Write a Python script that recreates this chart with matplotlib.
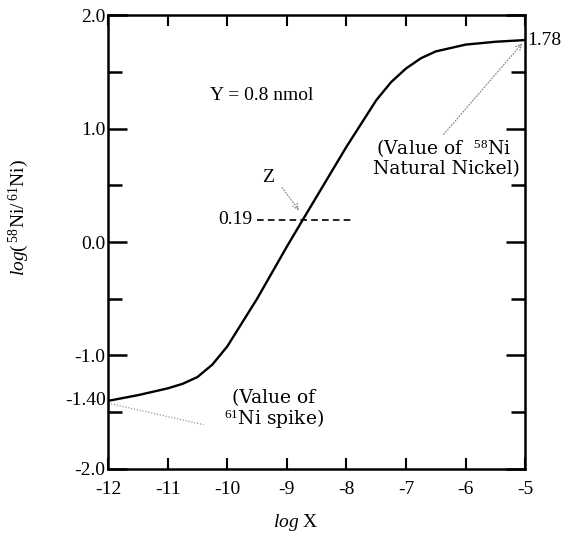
import numpy as np
import matplotlib
matplotlib.use("Agg")
import matplotlib.pyplot as plt
from matplotlib.ticker import FixedLocator, NullFormatter
import matplotlib.transforms as mtransforms

plt.rcParams['font.family'] = 'Liberation Serif'
plt.rcParams['mathtext.fontset'] = 'custom'
plt.rcParams['mathtext.rm'] = 'Liberation Serif'
plt.rcParams['mathtext.it'] = 'Liberation Serif:italic'

# curve
logX = [-12.0, -11.5, -11.0, -10.75, -10.5, -10.25, -10.0, -9.5, -9.0, -8.74,
        -8.0, -7.5, -7.25, -7.0, -6.75, -6.5, -6.0, -5.5, -5.0]
ratio = [-1.40, -1.35, -1.29, -1.25, -1.19, -1.08, -0.92, -0.50, -0.04, 0.19,
         0.84, 1.25, 1.41, 1.53, 1.62, 1.68, 1.74, 1.765, 1.78]

x_major = [-12, -11, -10, -9, -8, -7, -6, -5]
y_major = [-2.0, -1.0, 0.0, 1.0, 2.0]
y_minor = [-1.5, -0.5, 0.5, 1.5]
y_labels = ["-2.0", "-1.0", "0.0", "1.0", "2.0"]

z_value = 0.19
z_line = [-9.50, -7.88]
y_start = -1.40
y_end = 1.78

fig = plt.figure(figsize=(5.63, 5.39), dpi=100)
ax = fig.add_axes([0.192, 0.130, 0.741, 0.842])

ax.plot(logX, ratio, color="black", lw=1.7)
ax.plot(z_line, [z_value, z_value], color="black", lw=1.2, ls=(0, (4, 2.5)))

ax.set_xlim(-12, -5)
ax.set_ylim(-2, 2)
ax.set_xticks(x_major)
ax.set_xticklabels([str(v) for v in x_major])
ax.set_yticks(y_major)
ax.set_yticklabels(y_labels)
ax.yaxis.set_minor_locator(FixedLocator(y_minor))
ax.yaxis.set_minor_formatter(NullFormatter())

ax.tick_params(axis="x", direction="in", length=8, width=1.5, top=True,
               labelsize=14, pad=9)
ax.tick_params(axis="y", which="major", direction="in", length=14, width=1.8,
               right=True, labelsize=14, pad=2)
ax.tick_params(axis="y", which="minor", direction="in", length=10, width=1.8,
               right=True)
for s in ax.spines.values():
    s.set_linewidth(1.8)

ax.set_xlabel(r"$\mathit{log}$ X", fontsize=14)
ax.xaxis.set_label_coords(0.45, -0.095)
ax.set_ylabel(r"$\mathit{log}(\,^{58}\mathrm{Ni}/\,^{61}\mathrm{Ni})$",
              fontsize=14)
ax.yaxis.set_label_coords(-0.185, 0.553)

# extra labels on the axes
trans_l = mtransforms.blended_transform_factory(ax.transAxes, ax.transData)
ax.text(-0.005, y_start, "-1.40", transform=trans_l, ha="right", va="center",
        fontsize=14)
ax.text(1.004, y_end, "1.78", transform=trans_l, ha="left", va="center",
        fontsize=14)
ax.text(-9.58, z_value + 0.01, "0.19", ha="right", va="center", fontsize=14)

ax.text(-9.43, 1.29, "Y = 0.8 nmol", ha="center", va="center", fontsize=14)
ax.text(-9.31, 0.57, "Z", ha="center", va="center", fontsize=14)

ax.text(-6.37, 0.74, "(Value of  $^{58}$Ni\n Natural Nickel)", ha="center",
        va="center", fontsize=13.5, family="DejaVu Serif", linespacing=1.05)
ax.text(-9.22, -1.48, "(Value of\n$^{61}$Ni spike)", ha="center", va="center",
        fontsize=13.5, family="DejaVu Serif", linespacing=1.0)

arrow = dict(arrowstyle="->", color="0.5", lw=0.8, ls=":")
ax.annotate("", xy=(-8.77, 0.26), xytext=(-9.11, 0.50), arrowprops=arrow)
ax.annotate("", xy=(-5.02, 1.77), xytext=(-6.40, 0.93), arrowprops=arrow)
ax.plot([-12, -10.4], [-1.42, -1.61], color="0.5", lw=0.8, ls=":")

fig.savefig("out.png", dpi=100)
